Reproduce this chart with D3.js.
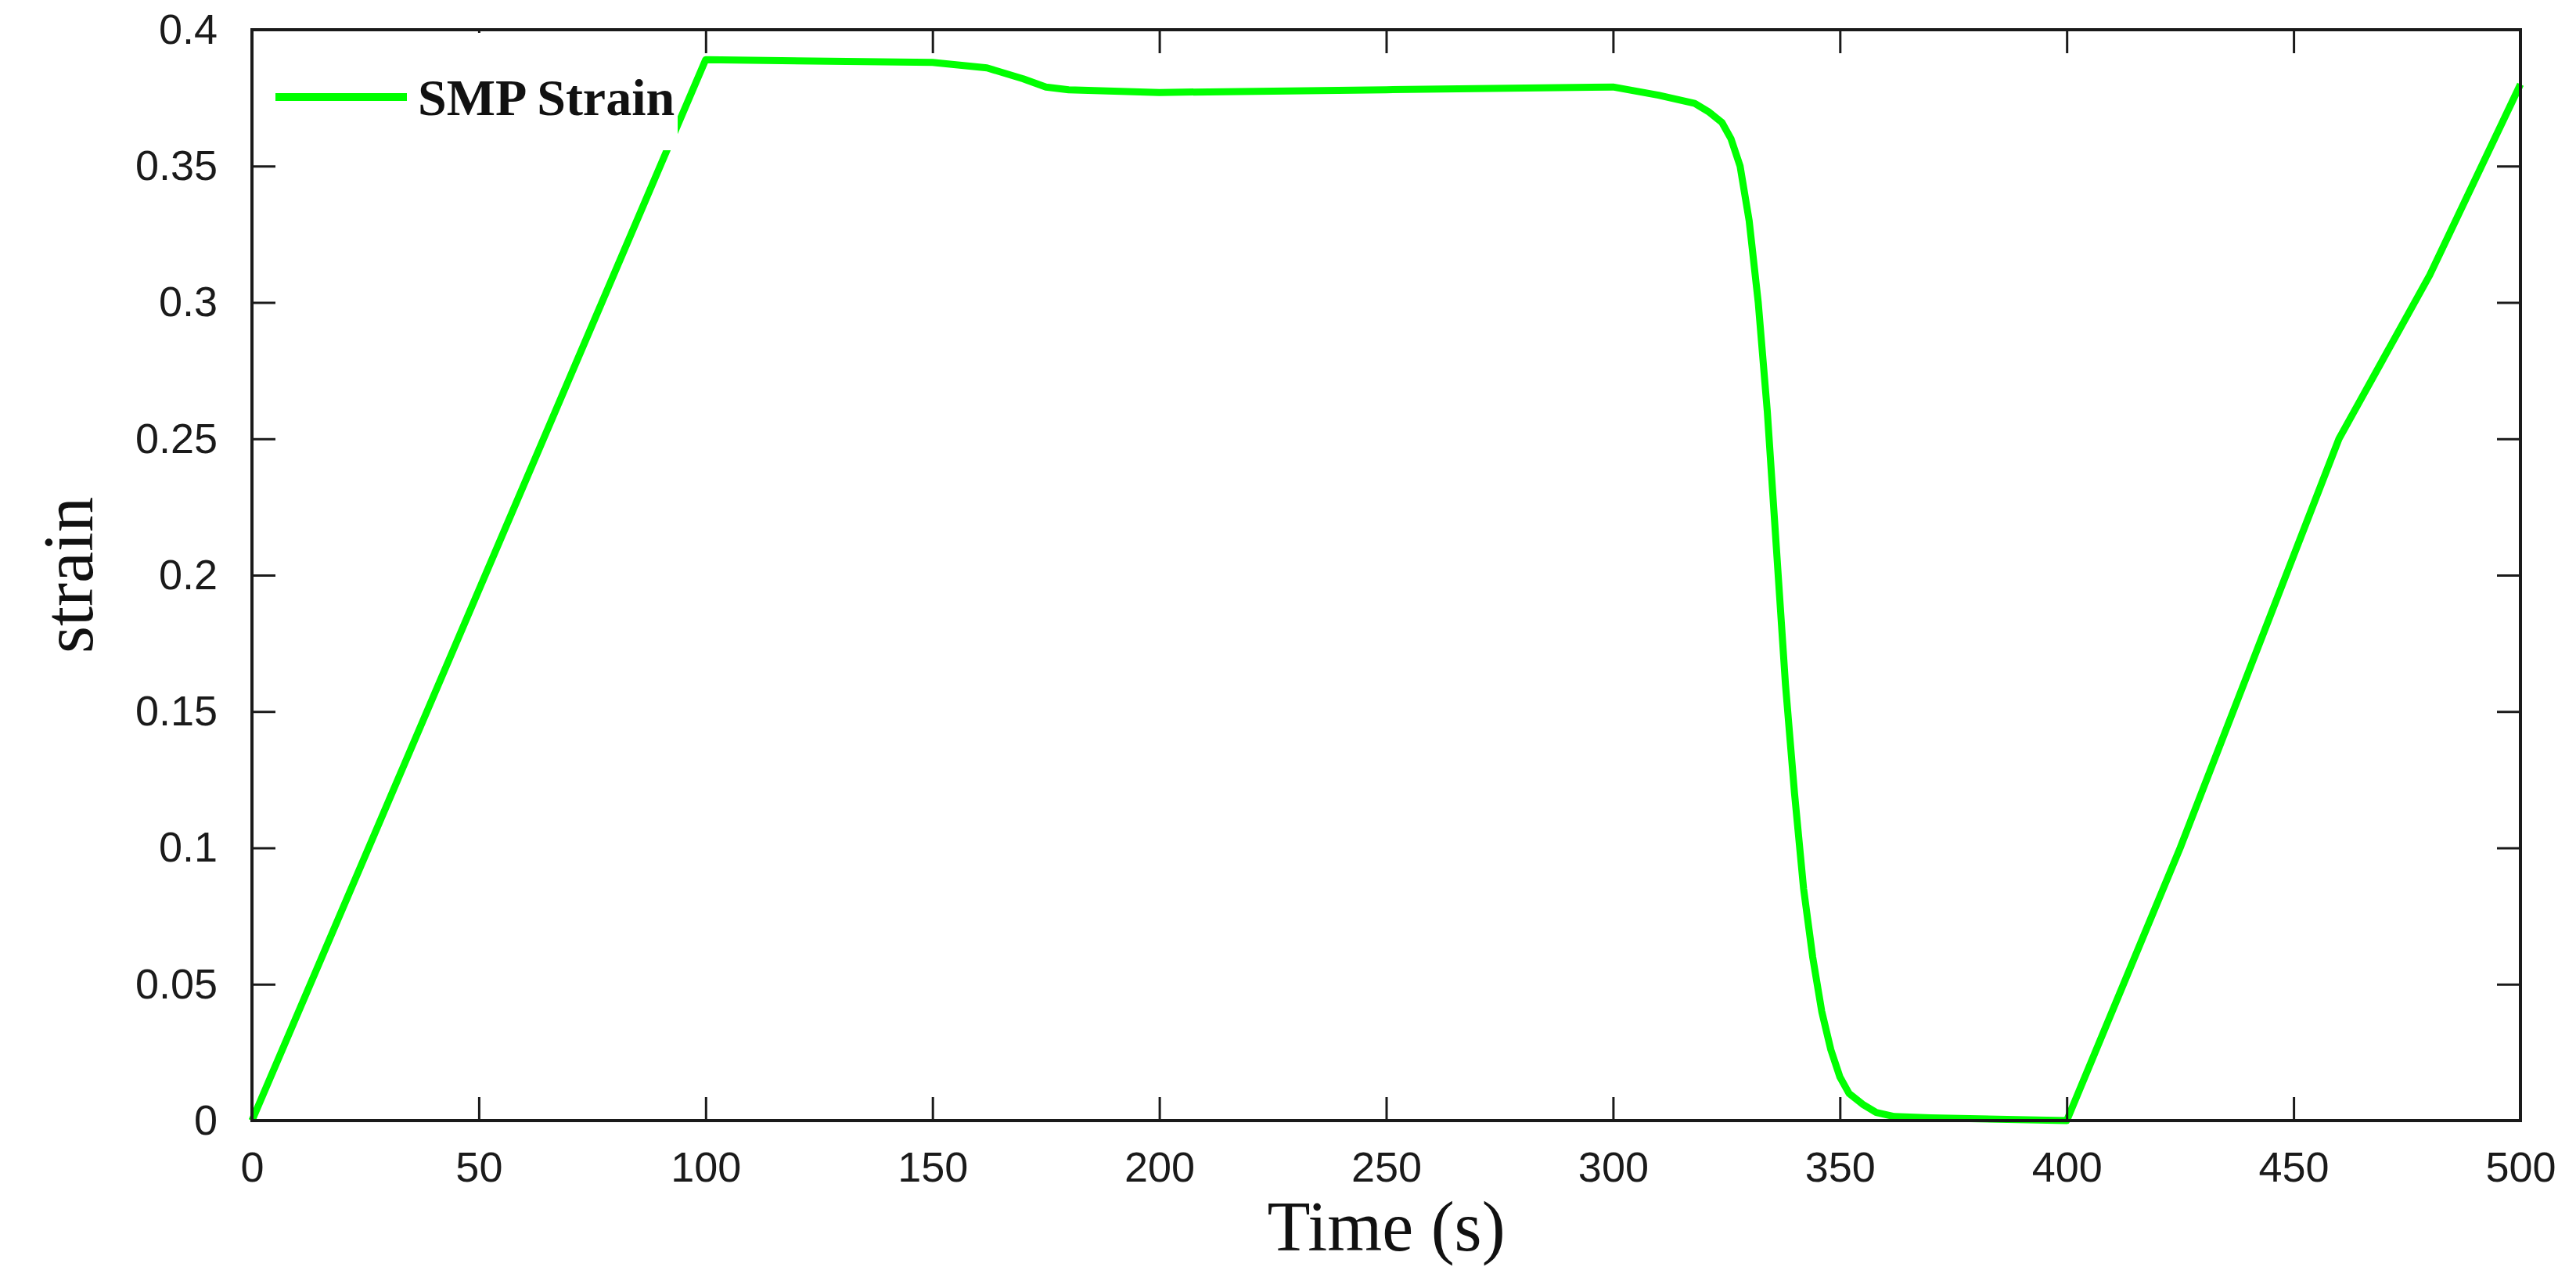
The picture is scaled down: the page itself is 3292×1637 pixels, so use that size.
<!DOCTYPE html>
<html><head><meta charset="utf-8">
<script src="https://cdn.jsdelivr.net/npm/d3@7"></script>
<style>body{margin:0;background:#fff}</style></head>
<body><svg id="c" width="3292" height="1637"></svg>
<script>
const timeValues = [0,100,150,162,170,175,180,200,250,300,310,318,321,324,326,328,330,332,334,336,338,340,342,344,346,348,350,352,355,358,362,370,400,425,460,480,500];
const strainValues = [0,0.389,0.388,0.386,0.382,0.379,0.378,0.377,0.378,0.379,0.376,0.373,0.370,0.366,0.360,0.35,0.33,0.30,0.26,0.21,0.16,0.12,0.085,0.06,0.04,0.026,0.016,0.010,0.006,0.003,0.0015,0.001,0,0.1,0.25,0.31,0.38];
const xTicks = [0,50,100,150,200,250,300,350,400,450,500];
const yTicks = [0,0.05,0.1,0.15,0.2,0.25,0.3,0.35,0.4];
const seriesName = "SMP Strain";

const L=322,R=3221,T=38,B=1432;
const svg=d3.select("#c");
const x=d3.scaleLinear().domain([0,500]).range([L,R]);
const y=d3.scaleLinear().domain([0,0.4]).range([B,T]);
const data=timeValues.map((t,i)=>({t,s:strainValues[i]}));

svg.append("path").datum(data)
 .attr("d",d3.line().x(d=>x(d.t)).y(d=>y(d.s)))
 .attr("fill","none").attr("stroke","#00ff00").attr("stroke-width",9).attr("stroke-linejoin","round");

const tf="'Liberation Sans',Arial,sans-serif";
function styleAxis(g){g.select(".domain").remove();g.selectAll("line").attr("stroke","#1a1a1a").attr("stroke-width",3);
 g.selectAll("text").attr("font-family",tf).attr("font-size",54).attr("fill","#1a1a1a");}
svg.append("g").attr("transform",`translate(0,${B})`)
 .call(d3.axisBottom(x).tickValues(xTicks).tickSize(-30).tickPadding(40).tickFormat(d3.format("d"))).call(styleAxis);
svg.append("g").attr("transform",`translate(0,${T})`)
 .call(d3.axisTop(x).tickValues(xTicks).tickSize(-30).tickFormat("")).call(styleAxis);
svg.append("g").attr("transform",`translate(${L},0)`)
 .call(d3.axisLeft(y).tickValues(yTicks).tickSize(-30).tickPadding(44).tickFormat(d=>d===0?"0":String(+d.toFixed(2)))).call(styleAxis);
svg.append("g").attr("transform",`translate(${R},0)`)
 .call(d3.axisRight(y).tickValues(yTicks).tickSize(-30).tickFormat("")).call(styleAxis);
svg.append("rect").attr("x",L).attr("y",T).attr("width",R-L).attr("height",B-T)
 .attr("fill","none").attr("stroke","#1a1a1a").attr("stroke-width",4);

const lg=svg.append("g");
lg.append("rect").attr("x",L+4).attr("y",T+4).attr("width",540).attr("height",150).attr("fill","#fff");
lg.append("line").attr("x1",352).attr("x2",520).attr("y1",124).attr("y2",124).attr("stroke","#00ff00").attr("stroke-width",10);
lg.append("text").attr("x",534).attr("y",147).text(seriesName)
 .attr("font-family","'Liberation Serif','Times New Roman',serif").attr("font-weight","bold").attr("font-size",66).attr("fill","#111");

svg.append("text").attr("x",(L+R)/2).attr("y",1598).attr("text-anchor","middle").text("Time (s)")
 .attr("font-family","'Liberation Serif','Times New Roman',serif").attr("font-size",90).attr("fill","#111");
svg.append("text").attr("transform",`translate(118,${(T+B)/2}) rotate(-90)`).attr("text-anchor","middle").text("strain")
 .attr("font-family","'Liberation Serif','Times New Roman',serif").attr("font-size",90).attr("fill","#111");
</script></body></html>
